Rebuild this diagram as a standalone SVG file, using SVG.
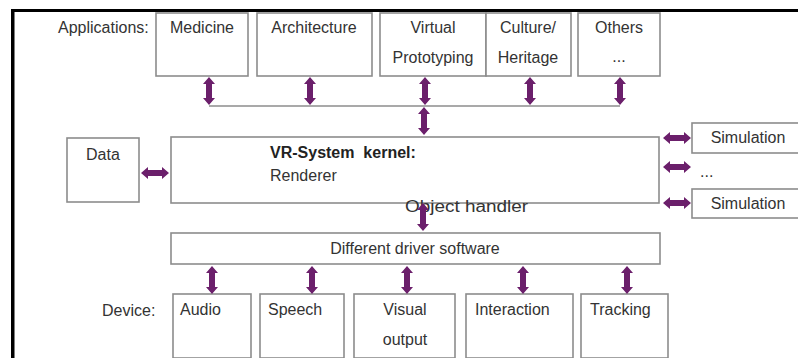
<svg xmlns="http://www.w3.org/2000/svg" xmlns:xlink="http://www.w3.org/1999/xlink" width="798" height="358" viewBox="0 0 798 358">
<style>
.box{fill:#fff;stroke:#8c8c8c;stroke-width:1.6}
.t{font-family:"Liberation Sans",Arial,sans-serif;font-size:16px;fill:#333}
.c{text-anchor:middle}
.b{font-weight:bold;fill:#222}
.line{stroke:#8c8c8c;stroke-width:1.6;fill:none}
.arr{fill:#6b1f6b}
</style>
<defs>
<path id="va" class="arr" d="M0,-14 L6,-7 L3,-7 L3,7 L6,7 L0,14 L-6,7 L-3,7 L-3,-7 L-6,-7 Z"/>
</defs>
<rect width="798" height="358" fill="#fff"/>
<g id="frame">
<rect x="11" y="9" width="3.5" height="349" fill="#000"/>
<rect x="11" y="9" width="787" height="3" fill="#000"/>
</g>
<text class="t" x="58" y="33">Applications:</text>
<text class="t" x="102" y="316">Device:</text>
<g id="medicine"><rect class="box" x="156" y="13" width="92" height="63"/><text class="t c" x="202" y="33">Medicine</text></g>
<g id="architecture"><rect class="box" x="257" y="13" width="115" height="63"/><text class="t c" x="314" y="33">Architecture</text></g>
<g id="virtual"><rect class="box" x="380" y="13" width="106" height="63"/><text class="t c" x="433" y="33">Virtual</text><text class="t c" x="433" y="63">Prototyping</text></g>
<g id="culture"><rect class="box" x="486" y="13" width="85" height="63"/><text class="t c" x="528" y="33">Culture/</text><text class="t c" x="528" y="63">Heritage</text></g>
<g id="others"><rect class="box" x="578" y="13" width="82" height="63"/><text class="t c" x="619" y="33">Others</text><text class="t c" x="619" y="62" fill="#888">...</text></g>
<g id="data"><rect class="box" x="67" y="138" width="72" height="64"/><text class="t" x="86" y="160">Data</text></g>
<g id="kernel"><rect class="box" x="171" y="137" width="488" height="66"/><text class="t b" x="270" y="158" font-size="16.5" xml:space="preserve">VR-System  kernel:</text><text class="t" x="270" y="181">Renderer</text><text class="t" x="405" y="212" font-size="17" textLength="123" lengthAdjust="spacingAndGlyphs">Object handler</text></g>
<g id="sim1"><rect class="box" x="692" y="123" width="110" height="30"/><text class="t c" x="748" y="143">Simulation</text></g>
<g id="simdots"><text class="t" x="700" y="177" fill="#666">...</text></g>
<g id="sim2"><rect class="box" x="692" y="189" width="110" height="29"/><text class="t c" x="748" y="209">Simulation</text></g>
<g id="driver"><rect class="box" x="171" y="233" width="489" height="31"/><text class="t c" x="415" y="254">Different driver software</text></g>
<g id="audio"><rect class="box" x="173" y="294" width="78" height="64"/><text class="t" x="180" y="315">Audio</text></g>
<g id="speech"><rect class="box" x="260" y="294" width="84" height="64"/><text class="t" x="268" y="315">Speech</text></g>
<g id="visual"><rect class="box" x="354" y="294" width="101" height="64"/><text class="t c" x="405" y="315">Visual</text><text class="t c" x="405" y="345">output</text></g>
<g id="interaction"><rect class="box" x="466" y="294" width="107" height="64"/><text class="t" x="475" y="315">Interaction</text></g>
<g id="tracking"><rect class="box" x="581" y="294" width="87" height="64"/><text class="t" x="590" y="315">Tracking</text></g>
<g id="connectors">
<line class="line" x1="209" y1="106" x2="620" y2="106"/>
<use xlink:href="#va" x="209" y="91"/>
<use xlink:href="#va" x="310" y="91"/>
<use xlink:href="#va" x="425" y="91"/>
<use xlink:href="#va" x="530" y="91"/>
<use xlink:href="#va" x="620" y="91"/>
<use xlink:href="#va" x="424" y="121"/>
<use xlink:href="#va" x="423" y="217"/>
<use xlink:href="#va" x="212" y="280"/>
<use xlink:href="#va" x="312" y="280"/>
<use xlink:href="#va" x="407" y="280"/>
<use xlink:href="#va" x="523" y="280"/>
<use xlink:href="#va" x="627" y="280"/>
<use xlink:href="#va" transform="translate(155,173) rotate(90)"/>
<use xlink:href="#va" transform="translate(677,138) rotate(90)"/>
<use xlink:href="#va" transform="translate(677,167) rotate(90)"/>
<use xlink:href="#va" transform="translate(677,203) rotate(90)"/>
</g>
</svg>
